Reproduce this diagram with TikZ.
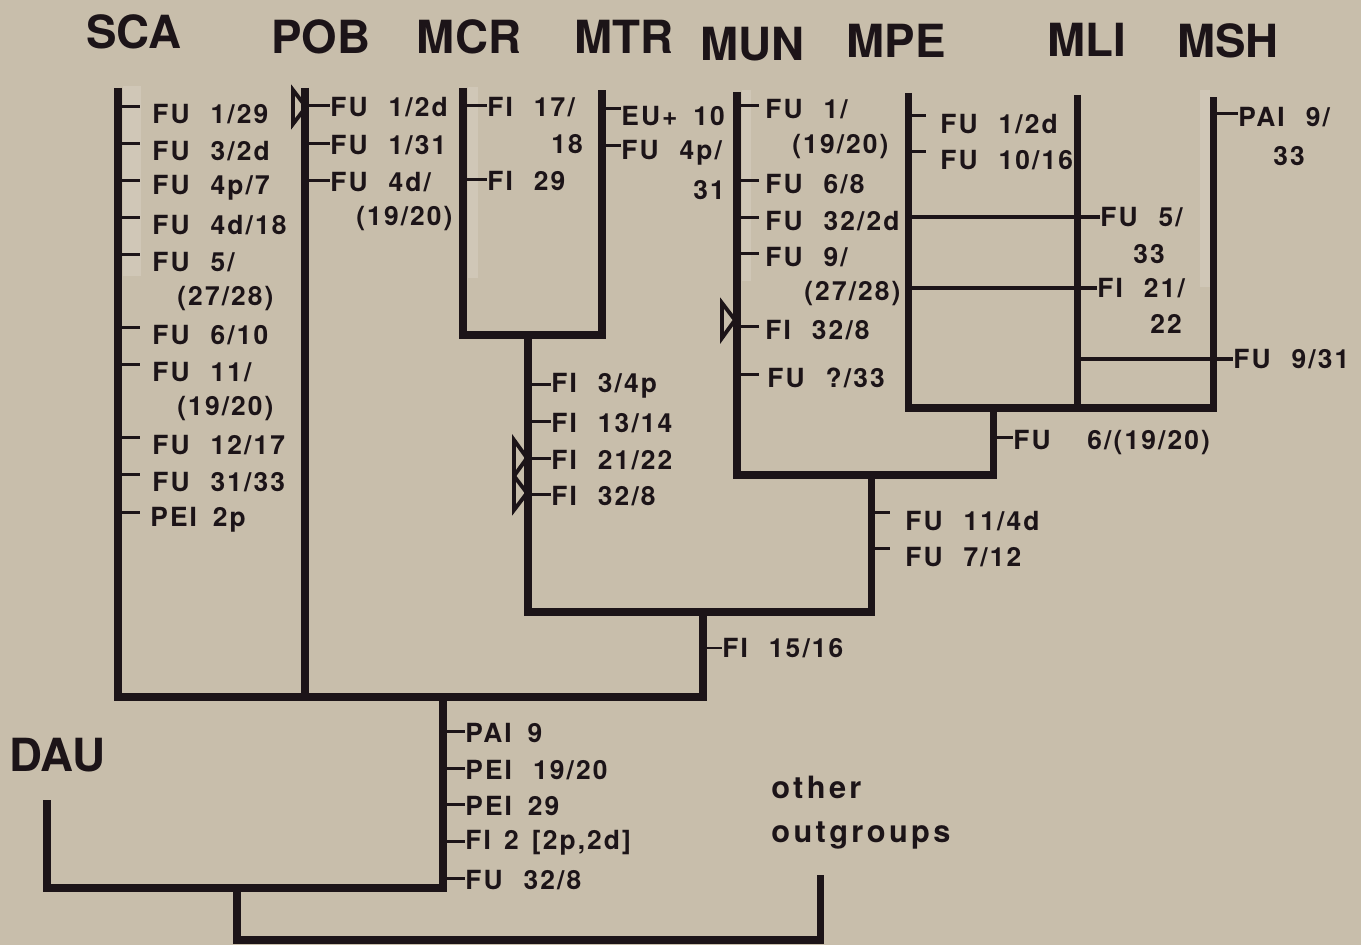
\documentclass[tikz,border=0pt]{standalone}
\usepackage{fontspec}
\setmainfont{TeX Gyre Heros}
\newfontfamily\labfont[LetterSpace=8]{TeX Gyre Heros}
\usetikzlibrary{positioning, calc}
\definecolor{paper}{RGB}{200,190,171}
\definecolor{ink}{RGB}{28,20,24}
\newcommand{\gp}{\hspace{0.8em}}
\newcommand{\gs}{\hspace{0.6em}}

\begin{document}
\begin{tikzpicture}[
		x=0.02cm, y=-0.02cm,
		font=\bfseries,
		lin/.style={draw=ink, line width=4pt, line join=miter},
		ret/.style={draw=ink, line width=1.8pt},
		tk/.style={draw=ink, line width=1.7pt},
		halo/.style={fill=white, opacity=0.15},
		tri/.style={draw=ink, line width=2.2pt, line join=miter},
		taxon/.style={font=\bfseries\fontsize{26}{28}\selectfont, text=ink, inner sep=0pt},
		lab/.style={font=\labfont\bfseries\fontsize{15}{17}\selectfont, text=ink, inner sep=0pt, anchor=west},
		outg/.style={font=\addfontfeature{LetterSpace=11}\bfseries\fontsize{17.5}{25}\selectfont, text=ink, inner sep=0pt, align=left}
	]

	% Papier
	\fill[paper] (0,0) rectangle (1361,945);
	\useasboundingbox (0,0) rectangle (1361,945);

	% Taxa
	\node[taxon] (SCA) at (134,32) {SCA};
	\node[taxon] (POB) at (321,37) {POB};
	\node[taxon] (MCR) at (469,37) {MCR};
	\node[taxon] (MTR) at (624,37) {MTR};
	\node[taxon] (MUN) at (752,44) {MUN};
	\node[taxon] (MPE) at (896,41) {MPE};
	\node[taxon] (MLI) at (1087,40) {MLI};
	\node[taxon] (MSH) at (1228,41) {MSH};
	\node[taxon] (DAU) at (57,755) {DAU};
	\node[outg, anchor=north west] (OUT) at (771,776) {other\\outgroups};

	% Spitzen und Knoten
	\coordinate (tSCA) at (118,88);
	\coordinate (tPOB) at (305,88);
	\coordinate (tMCR) at (463,88);
	\coordinate (tMTR) at (602,90);
	\coordinate (tMUN) at (737,92);
	\coordinate (tMPE) at (908,93);
	\coordinate (tMLI) at (1077,95);
	\coordinate (tMSH) at (1213,97);
	\coordinate (tDAU) at (47,800);
	\coordinate (tOUT) at (820,875);
	\coordinate (n1) at (528,335);
	\coordinate (n2) at (993,408);
	\coordinate (n3) at (871,475);
	\coordinate (n4) at (703,612);
	\coordinate (n5) at (443,697);
	\coordinate (n6) at (237,888);
	\coordinate (root) at (528,940);

	% helle Streifen
	\fill[halo] (123,86) rectangle (141,276);
	\fill[halo] (468,87) rectangle (478,278);
	\fill[halo] (742,90) rectangle (751,281);
	\fill[halo] (1200,90) rectangle (1210,287);

	% Baum
	\draw[lin] (tMCR) |- (n1) -| (tMTR);
	\draw[lin] (tMPE) |- (n2) -| (tMSH);
	\draw[lin] (tMLI) -- (tMLI |- n2);
	\draw[lin] (tMUN) |- (n3) -| (n2);
	\draw[lin] (n1) |- (n4) -| (n3);
	\draw[lin] (tSCA) |- (n5) -| (n4);
	\draw[lin] (tPOB) -- (tPOB |- n5);
	\draw[lin] (tDAU) |- (n6) -| (n5);
	\draw[lin] (n6) |- (root) -| (tOUT);

	% Dreiecke
	\draw[tri] (293,90) -- (306,107) -- (293,124) -- cycle;
	\draw[tri] (514,440) -- (527,458) -- (514,476) -- cycle;
	\draw[tri] (514,476) -- (527,493) -- (514,510) -- cycle;
	\draw[tri] (722,303) -- (735,320) -- (722,338) -- cycle;

	% SCA
	\node[lab] (sca1) at (152,114) {FU\gp 1/29};
	\node[lab] (sca2) at (152,151) {FU\gp 3/2d};
	\node[lab] (sca3) at (152,188) {FU\gp 4p/7};
	\node[lab] (sca4) at (152,225) {FU\gp 4d/18};
	\node[lab] (sca5) at (152,262) {FU\gp 5/};
	\node[lab] (sca5b) at (177,299) {(27/28)};
	\node[lab] (sca6) at (152,335) {FU\gp 6/10};
	\node[lab] (sca7) at (152,372) {FU\gp 11/};
	\node[lab] (sca7b) at (177,409) {(19/20)};
	\node[lab] (sca8) at (152,445) {FU\gp 12/17};
	\node[lab] (sca9) at (152,482) {FU\gp 31/33};
	\node[lab] (sca10) at (150,520) {PEI\gs 2p};
	\foreach \n in {sca1,sca2,sca3,sca4,sca5,sca6,sca7,sca8,sca9,sca10}
		\draw[tk] ([yshift=4pt]\n.west -| tSCA) -- ++(22,0);

	% POB
	\node[lab] (pob1) at (330,107) {FU\gp 1/2d};
	\node[lab] (pob2) at (330,145) {FU\gp 1/31};
	\node[lab] (pob3) at (330,182) {FU\gp 4d/};
	\node[lab] (pob3b) at (356,219) {(19/20)};
	\foreach \n in {pob1,pob2,pob3}
		\draw[tk] ([yshift=1pt]\n.west -| tPOB) -- ([yshift=1pt]\n.west);

	% MCR
	\node[lab] (mcr1) at (487,107) {FI\gp 17/};
	\node[lab] (mcr1b) at (551,144) {18};
	\node[lab] (mcr2) at (487,181) {FI\gp 29};
	\foreach \n in {mcr1,mcr2}
		\draw[tk] ([yshift=1pt]\n.west -| tMCR) -- ([yshift=1pt]\n.west);

	% MTR
	\node[lab] (mtr1) at (621,116) {EU+\gs 10};
	\node[lab] (mtr2) at (621,153) {FU\gp 4p/};
	\node[lab] (mtr2b) at (693,190) {31};
	\foreach \n in {mtr1,mtr2}
		\draw[tk] ([yshift=4pt]\n.west -| tMTR) -- ([yshift=4pt]\n.west);

	% MUN
	\node[lab] (mun1) at (765,109) {FU\gp 1/};
	\node[lab] (mun1b) at (792,147) {(19/20)};
	\node[lab] (mun2) at (765,184) {FU\gp 6/8};
	\node[lab] (mun3) at (765,221) {FU\gp 32/2d};
	\node[lab] (mun4) at (765,257) {FU\gp 9/};
	\node[lab] (mun4b) at (804,294) {(27/28)};
	\node[lab] (mun5) at (765,330) {FI\gp 32/8};
	\node[lab] (mun6) at (767,378) {FU\gp ?/33};
	\foreach \n in {mun1,mun2,mun3,mun4,mun5,mun6}
		\draw[tk] ([yshift=2pt]\n.west -| tMUN) -- ++(22,0);

	% MPE, MLI, MSH
	\node[lab] (mpe1) at (940,124) {FU\gp 1/2d};
	\node[lab] (mpe2) at (940,160) {FU\gp 10/16};
	\foreach \n in {mpe1,mpe2}
		\draw[tk] ([yshift=5pt]\n.west -| tMPE) -- ++(18,0);
	\node[lab] (mli1) at (1100,217) {FU\gp 5/};
	\node[lab] (mli1b) at (1133,254) {33};
	\node[lab] (mli2) at (1097,288) {FI\gp 21/};
	\node[lab] (mli2b) at (1150,324) {22};
	\draw[ret] (mli1.west -| tMPE) -- (mli1.west);
	\draw[ret] (mli2.west -| tMPE) -- (mli2.west);
	\node[lab] (msh1) at (1238,117) {PAI\gp 9/};
	\node[lab] (msh1b) at (1273,156) {33};
	\draw[tk] ([yshift=2pt]msh1.west -| tMSH) -- ([yshift=2pt]msh1.west);
	\node[lab] (msh2) at (1233,359) {FU\gp 9/31};
	\draw[ret] (msh2.west -| tMLI) -- (msh2.west);

	% Merkmale der inneren Aeste
	\node[lab] (c1) at (1013,443) {FU\hspace{1.4em}6/(19/20)};
	\draw[tk] ([yshift=3pt]c1.west -| n2) -- ([yshift=3pt]c1.west);
	\node[lab] (c2) at (905,521) {FU\gp 11/4d};
	\node[lab] (c3) at (905,557) {FU\gp 7/12};
	\foreach \n in {c2,c3}
		\draw[tk] ([yshift=5pt]\n.west -| n3) -- ++(19,0);
	\node[lab] (c4) at (551,386) {FI\gp 3/4p};
	\node[lab] (c5) at (551,423) {FI\gp 13/14};
	\node[lab] (c6) at (551,460) {FI\gp 21/22};
	\node[lab] (c7) at (551,496) {FI\gp 32/8};
	\foreach \n in {c4,c5,c6,c7}
		\draw[tk] ([yshift=1pt]\n.west -| n1) -- ([yshift=1pt]\n.west);
	\node[lab] (c8) at (722,648) {FI\gp 15/16};
	\draw[tk] (c8.west -| n4) -- (c8.west);
	\node[lab] (c9) at (465,733) {PAI\gs 9};
	\node[lab] (c10) at (465,770) {PEI\gp 19/20};
	\node[lab] (c11) at (465,806) {PEI\gs 29};
	\node[lab] (c12) at (465,843) {FI\hspace{0.5em}2\hspace{0.5em}[2p,2d]};
	\node[lab] (c13) at (465,880) {FU\gp 32/8};
	\foreach \n in {c9,c10,c11,c12,c13}
		\draw[tk] ([yshift=1pt]\n.west -| n5) -- ([yshift=1pt]\n.west);

\end{tikzpicture}
\end{document}
